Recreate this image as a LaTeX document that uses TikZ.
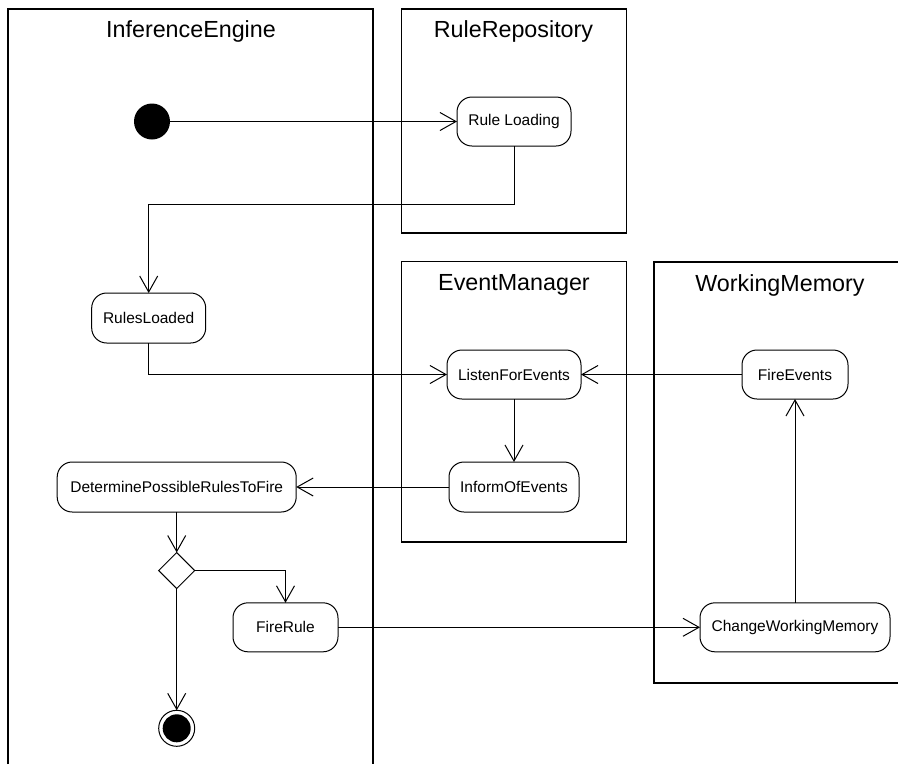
\documentclass[tikz,border=0pt]{standalone}
\usepackage{fontspec}
\setmainfont{Liberation Sans}
\usetikzlibrary{arrows.meta,shapes.geometric}
\begin{document}
\begin{tikzpicture}[x=1pt,y=-1pt,
  frame/.style={line width=1.2pt,draw=black},
  title/.style={anchor=base,font=\fontsize{23.3}{26}\selectfont},
  act/.style={draw,line width=1pt,rounded corners=15pt,minimum height=49pt,inner sep=0pt,outer sep=0pt,align=center,font=\fontsize{15.5}{18}\selectfont},
  flow/.style={draw,line width=1pt,-{Straight Barb[length=16pt,width=18pt,line width=1pt]}},
  startnode/.style={circle,fill=black,minimum size=36pt,inner sep=0pt,outer sep=0pt},
  endnode/.style={circle,draw,line width=1pt,fill=white,minimum size=36pt,inner sep=0pt,outer sep=0pt,path picture={\fill[black] (path picture bounding box.center) circle (14pt);}},
  decision/.style={diamond,draw,line width=1pt,minimum width=36pt,minimum height=36pt,inner sep=0pt,outer sep=0pt}]
\useasboundingbox (0,0) rectangle (898,764);
% swimlane frames
\draw[frame] (8,764) -- (8,9) -- (373,9) -- (373,764);
\draw[frame] (401.5,9) rectangle (626.7,233);
\draw[frame] (401.5,261.7) rectangle (626.7,542);
\draw[frame] (898,262) -- (654,262) -- (654,683) -- (898,683);
\node[title] (tIE) at (191,37.7) {InferenceEngine};
\node[title] (tRR) at (513.5,37.7) {RuleRepository};
\node[title] (tEM) at (514,290.5) {EventManager};
\node[title] (tWM) at (780,291.5) {WorkingMemory};
% nodes
\node[startnode] (start) at (152,121.5) {};
\node[act,minimum width=114pt] (ruleload) at (514,121.5) {Rule Loading};
\node[act,minimum width=114pt,minimum height=50pt] (rulesloaded) at (148.7,318) {RulesLoaded};
\node[act,minimum width=134pt] (listen) at (514,374.5) {ListenForEvents};
\node[act,minimum width=130pt,minimum height=50pt] (inform) at (514,487) {InformOfEvents};
\node[act,minimum width=239pt,minimum height=50pt] (dprtf) at (176.7,487) {DeterminePossibleRulesToFire};
\node[decision] (dec) at (176.7,570.5) {};
\node[act,minimum width=105pt] (firerule) at (285.5,627.3) {FireRule};
\node[endnode] (end) at (176.7,728.3) {};
\node[act,minimum width=106pt] (fireevents) at (795,374.5) {FireEvents};
\node[act,minimum width=190pt] (cwm) at (795,627.3) {ChangeWorkingMemory};
% connectors
\draw[flow] (start) -- (ruleload);
\draw[flow] (ruleload.south) -- ++(0,58) -| (rulesloaded.north);
\draw[flow] (rulesloaded.south) |- (listen.west);
\draw[flow] (fireevents) -- (listen);
\draw[flow] (listen) -- (inform);
\draw[flow] (inform) -- (dprtf);
\draw[flow] (dprtf) -- (dec);
\draw[flow] (dec.east) -| (firerule.north);
\draw[flow] (dec) -- (end);
\draw[flow] (firerule) -- (cwm);
\draw[flow] (cwm) -- (fireevents);
\end{tikzpicture}
\end{document}
